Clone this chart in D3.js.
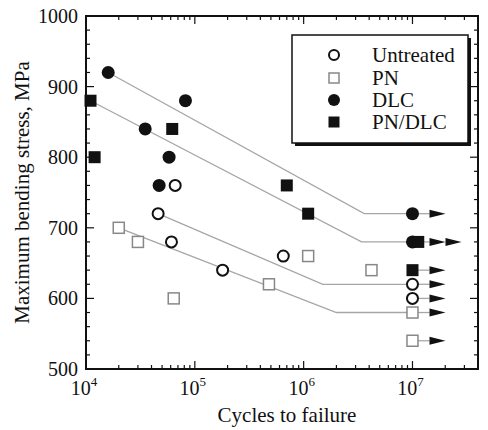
<!DOCTYPE html>
<html>
<head>
<meta charset="UTF-8">
<title>S-N curves</title>
<script src="https://d3js.org/d3.v7.min.js"></script>
<style>
  body { margin: 0; background: #fff; }
  svg text { font-family: "Liberation Serif", "Times New Roman", serif; fill: #111; }
</style>
</head>
<body>
<svg id="chart" width="488" height="430"></svg>
<script>
// data: [cycles, stress MPa]
var untreated = [[4.6e4, 720], [6.6e4, 760], [6.1e4, 680], [1.8e5, 640], [6.5e5, 660], [1e7, 620], [1e7, 600]];
var pn = [[2e4, 700], [3e4, 680], [6.4e4, 600], [4.8e5, 620], [1.1e6, 660], [4.2e6, 640], [1e7, 580], [1e7, 540]];
var dlc = [[1.6e4, 920], [8.2e4, 880], [3.5e4, 840], [5.8e4, 800], [4.7e4, 760], [1e7, 720], [1e7, 680]];
var pndlc = [[1.1e4, 880], [1.2e4, 800], [6.2e4, 840], [7e5, 760], [1.1e6, 720], [1.13e7, 680], [1e7, 640]];

// run-outs (no failure): [cycles, stress, number of arrows]
var runouts = [[1e7, 720, 1], [1.13e7, 680, 2], [1e7, 640, 1], [1e7, 620, 1], [1e7, 600, 1], [1e7, 580, 1], [1e7, 540, 1]];

// fitted S-N lines with knee
var fitDLC = [[1.6e4, 920], [3.6e6, 720], [1e7, 720]];
var fitPNDLC = [[1.1e4, 880], [3.4e6, 680], [1e7, 680]];
var fitUntreated = [[4.6e4, 720], [1.5e6, 620], [1e7, 620]];
var fitPN = [[2e4, 700], [2e6, 580], [1e7, 580]];

var yTicks = [500, 600, 700, 800, 900, 1000];
var xTickExps = [4, 5, 6, 7];
var legendNames = ["Untreated", "PN", "DLC", "PN/DLC"];

var svg = d3.select("#chart");
var pLeft = 86, pRight = 478, pTop = 16, pBottom = 369;

var x = d3.scaleLog().domain([1e4, 4e7]).range([pLeft, pRight]);
var y = d3.scaleLinear().domain([500, 1000]).range([pBottom, pTop]);

// minor/major ticks
var xMinor = [];
for (var e = 4; e <= 7; e++) {
    for (var m = 1; m <= 9; m++) {
        var v = m * Math.pow(10, e);
        if (v <= 4e7) xMinor.push(v);
    }
}
var yMinor = d3.range(500, 1001, 20);

var axes = svg.append("g");

// bottom + top ticks (inward)
xMinor.forEach(function(v) {
    var major = Math.abs(Math.log10(v) - Math.round(Math.log10(v))) < 1e-9;
    var len = major ? 8 : 4;
    axes.append("line").attr("x1", x(v)).attr("x2", x(v))
        .attr("y1", pBottom).attr("y2", pBottom - len)
        .attr("stroke", "#111").attr("stroke-width", 1.2);
    axes.append("line").attr("x1", x(v)).attr("x2", x(v))
        .attr("y1", pTop).attr("y2", pTop + len)
        .attr("stroke", "#111").attr("stroke-width", 1.2);
});

// left + right ticks
yMinor.forEach(function(v) {
    var len = (v % 100 === 0) ? 8 : 4;
    axes.append("line").attr("x1", pLeft).attr("x2", pLeft + len)
        .attr("y1", y(v)).attr("y2", y(v))
        .attr("stroke", "#111").attr("stroke-width", 1.2);
    axes.append("line").attr("x1", pRight).attr("x2", pRight - len)
        .attr("y1", y(v)).attr("y2", y(v))
        .attr("stroke", "#111").attr("stroke-width", 1.2);
});

axes.append("rect")
    .attr("x", pLeft).attr("y", pTop)
    .attr("width", pRight - pLeft).attr("height", pBottom - pTop)
    .attr("fill", "none").attr("stroke", "#111").attr("stroke-width", 2);

// tick labels
yTicks.forEach(function(v) {
    axes.append("text").attr("x", pLeft - 8).attr("y", y(v) + 7)
        .attr("text-anchor", "end").attr("font-size", 20).text(v);
});
xTickExps.forEach(function(e) {
    var t = axes.append("text").attr("x", x(Math.pow(10, e)) - 2).attr("y", pBottom + 26)
        .attr("text-anchor", "middle").attr("font-size", 20);
    t.append("tspan").text("10");
    t.append("tspan").attr("font-size", 13).attr("dy", -9).text(e);
});

svg.append("text")
    .attr("x", 287).attr("y", 422)
    .attr("text-anchor", "middle").attr("font-size", 21)
    .text("Cycles to failure");

svg.append("text")
    .attr("transform", "translate(29," + ((pTop + pBottom) / 2) + ") rotate(-90)")
    .attr("text-anchor", "middle").attr("font-size", 21)
    .text("Maximum bending stress, MPa");

// fitted lines
var line = d3.line().x(function(d) { return x(d[0]); }).y(function(d) { return y(d[1]); });
[fitDLC, fitPNDLC, fitUntreated, fitPN].forEach(function(f) {
    svg.append("path").attr("d", line(f))
        .attr("fill", "none").attr("stroke", "#a6a6a6").attr("stroke-width", 1.3);
});

// run-out arrows
var arrowLen = 16, arrowH = 8;
runouts.forEach(function(r) {
    var x0 = x(1e7), yy = y(r[1]);
    var start = x0 + 17;
    svg.append("line").attr("x1", x(r[0])).attr("x2", start)
        .attr("y1", yy).attr("y2", yy)
        .attr("stroke", "#a6a6a6").attr("stroke-width", 1.3);
    for (var i = 0; i < r[2]; i++) {
        var ax = start + i * arrowLen;
        svg.append("path")
            .attr("d", "M" + ax + "," + (yy - arrowH / 2) + "L" + (ax + arrowLen) + "," + yy + "L" + ax + "," + (yy + arrowH / 2) + "Z")
            .attr("fill", "#111");
    }
});

// markers
function drawCircles(data, filled) {
    svg.append("g").selectAll("circle").data(data).enter().append("circle")
        .attr("cx", function(d) { return x(d[0]); })
        .attr("cy", function(d) { return y(d[1]); })
        .attr("r", filled ? 6.5 : 5.5)
        .attr("fill", filled ? "#111" : "#fff")
        .attr("stroke", "#111").attr("stroke-width", filled ? 0 : 2);
}
function drawSquares(data, filled) {
    var s = filled ? 12 : 11;
    svg.append("g").selectAll("rect").data(data).enter().append("rect")
        .attr("x", function(d) { return x(d[0]) - s / 2; })
        .attr("y", function(d) { return y(d[1]) - s / 2; })
        .attr("width", s).attr("height", s)
        .attr("fill", filled ? "#111" : "#fff")
        .attr("stroke", filled ? "none" : "#888").attr("stroke-width", 1.5);
}
drawSquares(pn, false);
drawCircles(untreated, false);
drawCircles(dlc, true);
drawSquares(pndlc, true);

// legend
var lg = svg.append("g");
lg.append("rect").attr("x", 295).attr("y", 38).attr("width", 176).attr("height", 108).attr("fill", "#111");
lg.append("rect").attr("x", 292).attr("y", 35).attr("width", 176).attr("height", 108)
    .attr("fill", "#fff").attr("stroke", "#111").attr("stroke-width", 1.5);
var ly = [55, 78, 100, 122];
legendNames.forEach(function(name, i) {
    var cx = 334, cy = ly[i];
    if (i === 0) lg.append("circle").attr("cx", cx).attr("cy", cy).attr("r", 5).attr("fill", "#fff").attr("stroke", "#111").attr("stroke-width", 2);
    if (i === 1) lg.append("rect").attr("x", cx - 5).attr("y", cy - 5).attr("width", 10).attr("height", 10).attr("fill", "#fff").attr("stroke", "#888").attr("stroke-width", 1.5);
    if (i === 2) lg.append("circle").attr("cx", cx).attr("cy", cy).attr("r", 6).attr("fill", "#111");
    if (i === 3) lg.append("rect").attr("x", cx - 5.5).attr("y", cy - 5.5).attr("width", 11).attr("height", 11).attr("fill", "#111");
    lg.append("text").attr("x", 372).attr("y", cy + 7).attr("font-size", 21).text(name);
});
</script>
</body>
</html>
